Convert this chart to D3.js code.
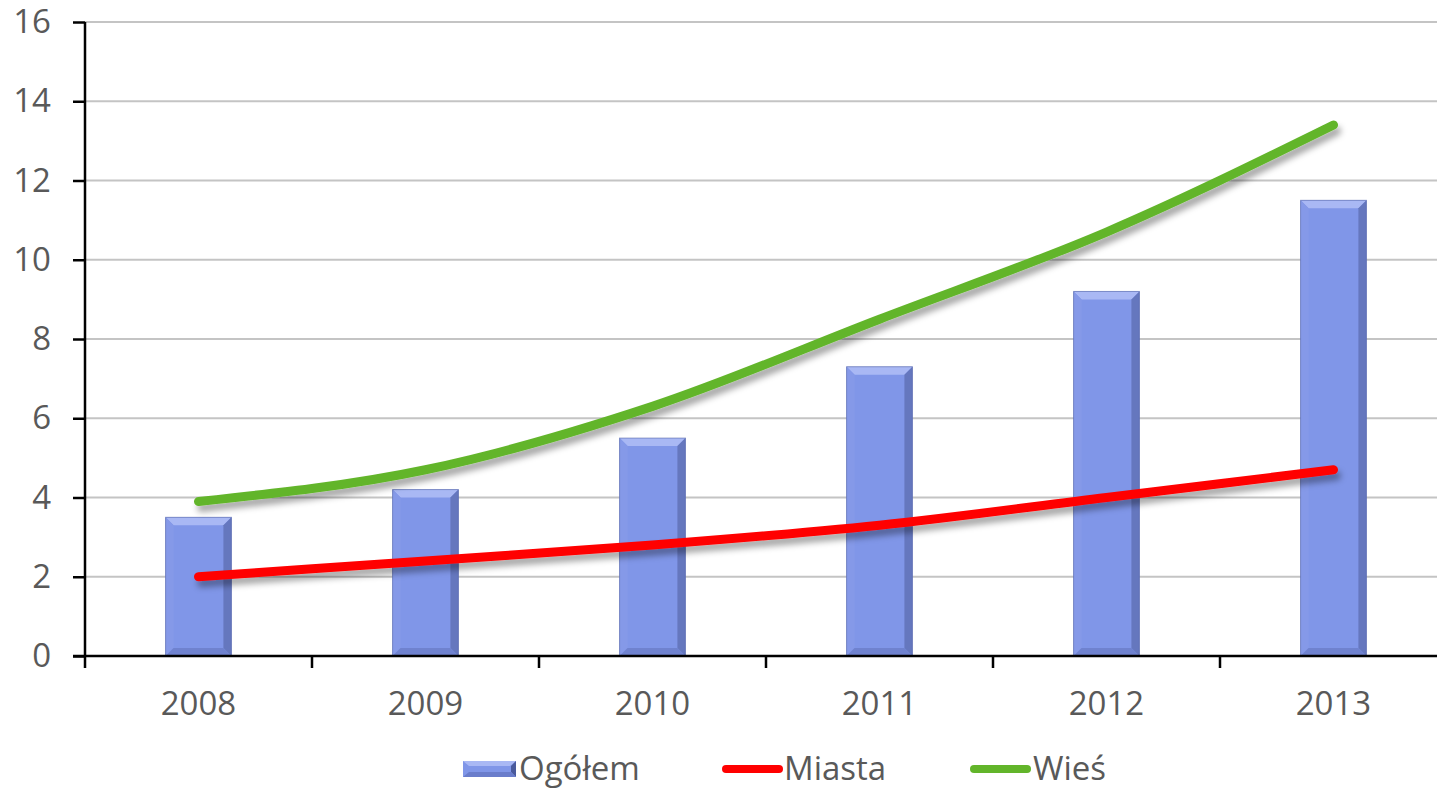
<!DOCTYPE html>
<meta charset="utf-8">
<html>
<head>
<script src="https://d3js.org/d3.v7.min.js"></script>
<style>
  body { margin: 0; background: #fff; }
  text { font-family: "Open Sans", "Liberation Sans", sans-serif; fill: #595959; }
</style>
</head>
<body>
<script>
// data
var years = ["2008", "2009", "2010", "2011", "2012", "2013"];
var ogolem = [3.5, 4.2, 5.5, 7.3, 9.2, 11.5];
var miasta = [2.0, 2.4, 2.8, 3.3, 4.0, 4.7];
var wies = [3.9, 4.7, 6.3, 8.5, 10.7, 13.4];
var yTicks = [0, 2, 4, 6, 8, 10, 12, 14, 16];

var W = 1437, H = 789;
var plotLeft = 85, plotTop = 22, plotBottom = 656;

var svg = d3.select("body").append("svg")
    .attr("width", W).attr("height", H);

var defs = svg.append("defs");
var f = defs.append("filter").attr("id", "shadow")
    .attr("x", "-10%").attr("y", "-50%").attr("width", "120%").attr("height", "200%");
f.append("feDropShadow").attr("dx", 3).attr("dy", 6).attr("stdDeviation", 3)
    .attr("flood-color", "#000").attr("flood-opacity", 0.35);

var x = d3.scaleBand().domain(years).range([plotLeft, plotLeft + 6 * 227]);
var y = d3.scaleLinear().domain([0, 16]).range([plotBottom, plotTop]);

// gridlines
svg.append("g").selectAll("line")
    .data(yTicks.filter(function(d) { return d > 0; }))
    .enter().append("line")
    .attr("x1", plotLeft).attr("x2", W)
    .attr("y1", function(d) { return y(d); })
    .attr("y2", function(d) { return y(d); })
    .attr("stroke", "#c4c4c4").attr("stroke-width", 2);

// bars with bevel
var bw = x.bandwidth() * 0.29, bv = 8;
var bars = svg.append("g").selectAll("g").data(years).enter().append("g");
bars.each(function(d, i) {
    var g = d3.select(this);
    var x0 = x(d) + (x.bandwidth() - bw) / 2, x1 = x0 + bw;
    var y0 = y(ogolem[i]), y1 = y(0);
    g.append("rect").attr("x", x0).attr("y", y0).attr("width", bw).attr("height", y1 - y0)
        .attr("fill", "#8096E8");
    var poly = function(pts, c) {
        g.append("polygon").attr("points", pts.map(function(p) { return p.join(","); }).join(" "))
            .attr("fill", c);
    };
    poly([[x0, y0], [x1, y0], [x1 - bv, y0 + bv], [x0 + bv, y0 + bv]], "#A9B8F4");
    poly([[x0, y0], [x0 + bv, y0 + bv], [x0 + bv, y1 - bv], [x0, y1]], "#8599E8");
    poly([[x1, y0], [x1, y1], [x1 - bv, y1 - bv], [x1 - bv, y0 + bv]], "#6577BE");
    poly([[x0, y1], [x0 + bv, y1 - bv], [x1 - bv, y1 - bv], [x1, y1]], "#6F82CF");
    g.append("rect").attr("x", x0).attr("y", y0).attr("width", bw).attr("height", y1 - y0)
        .attr("fill", "none").attr("stroke", "#5565a8").attr("stroke-width", 1).attr("stroke-opacity", 0.6);
});

// lines
var line = d3.line()
    .x(function(d, i) { return x(years[i]) + x.bandwidth() / 2; })
    .y(function(d) { return y(d); })
    .curve(d3.curveMonotoneX);

[[miasta, "#FF0000"], [wies, "#62B52A"]].forEach(function(s) {
    svg.append("path").datum(s[0])
        .attr("d", line)
        .attr("fill", "none")
        .attr("stroke", s[1])
        .attr("stroke-width", 9)
        .attr("stroke-linecap", "round")
        .attr("stroke-linejoin", "round")
        .attr("filter", "url(#shadow)");
});

// y axis
var yAxis = svg.append("g")
    .attr("transform", "translate(" + plotLeft + ",0)")
    .call(d3.axisLeft(y).tickValues(yTicks).tickSize(12).tickPadding(22));
yAxis.select(".domain").attr("stroke", "#000").attr("stroke-width", 2.5).attr("d", "M0," + plotTop + "V" + (plotBottom + 12));
yAxis.selectAll(".tick line").attr("stroke", "#000").attr("stroke-width", 2.5);
yAxis.selectAll(".tick text").attr("font-size", 33).attr("fill", "#595959")
    .style("font-family", "'Open Sans', sans-serif");

// x axis
var xAxis = svg.append("g")
    .attr("transform", "translate(0," + plotBottom + ")");
xAxis.append("line").attr("x1", plotLeft - 12).attr("x2", W).attr("y1", 0).attr("y2", 0)
    .attr("stroke", "#000").attr("stroke-width", 2.5);
xAxis.selectAll(".tk").data(years.slice(1)).enter().append("line")
    .attr("x1", function(d) { return x(d); }).attr("x2", function(d) { return x(d); })
    .attr("y1", 0).attr("y2", 12)
    .attr("stroke", "#000").attr("stroke-width", 2.5);
xAxis.selectAll(".lbl").data(years).enter().append("text")
    .attr("x", function(d) { return x(d) + x.bandwidth() / 2; })
    .attr("y", 59)
    .attr("text-anchor", "middle")
    .attr("font-size", 33)
    .text(function(d) { return d; });

// legend
var lg = svg.append("g");
var ly = 769;
var sw = lg.append("g");
sw.append("rect").attr("x", 463).attr("y", ly - 8).attr("width", 53).attr("height", 16).attr("fill", "#8096E8");
sw.append("polygon").attr("points", "463," + (ly - 8) + " 516," + (ly - 8) + " 510," + (ly - 3) + " 469," + (ly - 3)).attr("fill", "#A9B8F4");
sw.append("polygon").attr("points", "516," + (ly - 8) + " 516," + (ly + 8) + " 511," + (ly + 3) + " 511," + (ly - 3)).attr("fill", "#4a5a9c");
sw.append("polygon").attr("points", "463," + (ly + 8) + " 469," + (ly + 3) + " 511," + (ly + 3) + " 516," + (ly + 8)).attr("fill", "#6A7DCB");
lg.append("text").attr("x", 519).attr("y", ly + 11).attr("font-size", 33).text("Ogółem");

lg.append("line").attr("x1", 726).attr("x2", 779).attr("y1", ly).attr("y2", ly)
    .attr("stroke", "#FF0000").attr("stroke-width", 8).attr("stroke-linecap", "round");
lg.append("text").attr("x", 784).attr("y", ly + 11).attr("font-size", 33).text("Miasta");

lg.append("line").attr("x1", 974).attr("x2", 1027).attr("y1", ly).attr("y2", ly)
    .attr("stroke", "#62B52A").attr("stroke-width", 8).attr("stroke-linecap", "round");
lg.append("text").attr("x", 1033).attr("y", ly + 11).attr("font-size", 33).text("Wieś");
</script>
</body>
</html>
